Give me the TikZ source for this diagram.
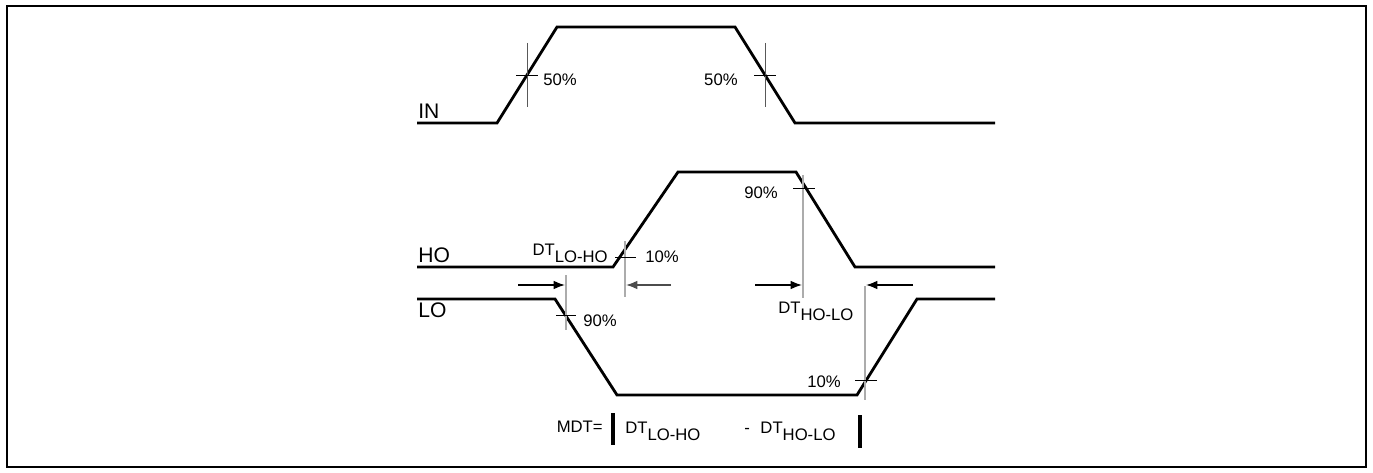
\documentclass[tikz,border=0pt]{standalone}
\usepackage{fontspec}
\setmainfont{Liberation Sans}
\usetikzlibrary{arrows.meta}
\newcommand{\lowtxt}[1]{\raisebox{-4.5pt}{#1}}
\begin{document}
\begin{tikzpicture}[x=0.02cm,y=-0.02cm,
    wave/.style={line width=1.6pt,line join=miter},
    tickline/.style={line width=0.5pt,black},
    guide/.style={line width=0.7pt,gray!65},
    dtarrow/.style={line width=0.9pt,-{Latex[length=6.5pt,width=5pt]}},
    pct/.style={font=\fontsize{9.5}{11}\selectfont,inner sep=0pt},
    sig/.style={font=\fontsize{12}{14}\selectfont,inner sep=0pt,anchor=south west}]
    \useasboundingbox (0,0) rectangle (1373,473);

    % frame
    \draw[line width=1.6pt] (367,6) -- (7,6) -- (7,467) -- (1366,467) -- (1366,6) -- (1008,6);
    \draw[line width=0.7pt] (367,6) -- (1008,6);

    % IN
    \draw[wave] (417,123) -- (497,123) -- (557,27) -- (735,27) -- (795,123) -- (995,123);
    \node[sig] (IN) at (418,119) {IN};
    \draw[tickline,gray!70!black] (527,43) -- (527,107);
    \draw[tickline] (516,75) -- (538,75);
    \node[pct,anchor=west] (A) at (543,80) {50\%};
    \draw[tickline,gray!70!black] (765,43) -- (765,107);
    \draw[tickline] (754,75) -- (776,75);
    \node[pct,anchor=east] (B) at (738,80) {50\%};

    % HO
    \draw[wave] (417,267) -- (613,267) -- (678,172) -- (796,172) -- (855,267) -- (995,267);
    \node[sig] (HO) at (418,263) {HO};
    \draw[guide] (625,241) -- (625,297);
    \draw[tickline] (615,257) -- (636,257);
    \node[pct,anchor=west] (C) at (645,257) {10\%};
    \draw[guide] (803,175) -- (803,298);
    \draw[tickline] (793,188) -- (815,188);
    \node[pct,anchor=east] (D) at (778,193) {90\%};
    \node[pct,anchor=base east] (E) at (608,255) {DT\lowtxt{LO-HO}};

    % LO
    \draw[wave] (417,299) -- (555,299) -- (617,395) -- (857,395) -- (917,299) -- (995,299);
    \node[sig] (LO) at (418,318) {LO};
    \draw[guide] (566,275) -- (566,330);
    \draw[tickline] (556,315) -- (576,315);
    \node[pct,anchor=west] (F) at (583,321) {90\%};
    \draw[guide] (865,286) -- (865,400);
    \draw[tickline] (855,380) -- (877,380);
    \node[pct,anchor=east] (G) at (841,382) {10\%};
    \node[pct,anchor=base west] (H) at (778,313) {DT\lowtxt{HO-LO}};

    % dead time arrows
    \coordinate (p1) at (518,285);
    \coordinate (q1) at (565,285);
    \coordinate (p2) at (671,285);
    \coordinate (q2) at (626,285);
    \coordinate (p3) at (755,285);
    \coordinate (q3) at (802,285);
    \coordinate (p4) at (913,285);
    \coordinate (q4) at (866,285);
    \draw[dtarrow] (p1) to (q1);
    \draw[dtarrow,gray!60!black] (p2) to (q2);
    \draw[dtarrow] (p3) to (q3);
    \draw[dtarrow] (p4) to (q4);

    % MDT
    \node[pct,anchor=base east] (M) at (603,432) {MDT=};
    \draw[line width=2.2pt] (613,413) -- (613,445);
    \node[pct,anchor=base west] (N) at (625,433) {DT\lowtxt{LO-HO}};
    \node[pct,anchor=base west] (P) at (744,433) {-\hspace{6pt}DT\lowtxt{HO-LO}};
    \draw[line width=2.2pt] (860,415) -- (860,448);
\end{tikzpicture}
\end{document}
